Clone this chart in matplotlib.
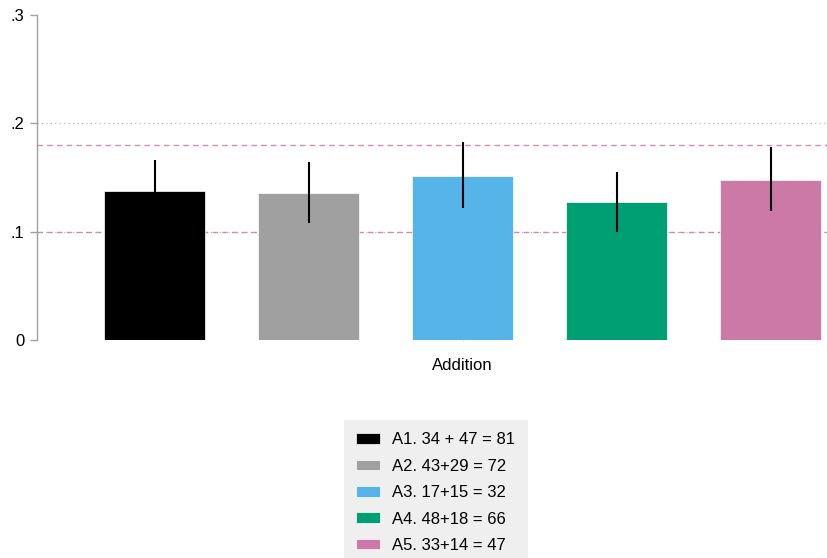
import matplotlib.pyplot as plt
from matplotlib.patches import Patch

plt.rcParams['font.family'] = ['Liberation Sans', 'DejaVu Sans']

labels = ['A1. 34 + 47 = 81', 'A2. 43+29 = 72', 'A3. 17+15 = 32',
          'A4. 48+18 = 66', 'A5. 33+14 = 47']
means = [0.1375, 0.1357, 0.1514, 0.127, 0.148]
ci_low = [0.109, 0.108, 0.1218, 0.100, 0.119]
ci_high = [0.166, 0.164, 0.1826, 0.1554, 0.178]
colors = ['#000000', '#a0a0a0', '#56b4e9', '#009e73', '#cc79a7']
ref_lines = [0.1, 0.18]
yticks = [0, 0.1, 0.2, 0.3]
ytick_labels = ['0', '.1', '.2', '.3']

fig = plt.figure(figsize=(8.28, 5.58), dpi=100)
ax = fig.add_axes([37 / 828, 1 - 340 / 558, 1 - 37 / 828, 325 / 558])

x = list(range(len(means)))
ax.bar(x, means, width=0.656, color=colors, edgecolor='white', linewidth=0.5, zorder=2)
for i in x:
    ax.plot([i, i], [ci_low[i], ci_high[i]], color='black', lw=1.5, zorder=3,
            solid_capstyle='butt')

for yv in [0, 0.1, 0.2]:
    ax.axhline(yv, color='#b0b0b0', lw=0.8, ls=(0, (1, 3)), zorder=0)
for yv in ref_lines:
    ax.axhline(yv, color='#cc79a7', lw=1.0, ls=(0, (4, 3)), alpha=0.85, zorder=1)

ax.set_xlim(-0.766, 4.373)
ax.set_ylim(0, 0.3)
ax.set_yticks(yticks)
ax.set_yticklabels(ytick_labels, fontsize=12)
ax.set_xticks([2])
ax.set_xticklabels(['Addition'], fontsize=12)
ax.tick_params(axis='x', length=1, color='#cccccc', pad=12)
ax.tick_params(axis='y', length=5, color='#a0a0a0', width=1, pad=4)
for s in ['top', 'right', 'bottom']:
    ax.spines[s].set_visible(False)
ax.spines['left'].set_color('#a0a0a0')
ax.spines['left'].set_linewidth(1)

handles = [Patch(facecolor=c, edgecolor='white', linewidth=0.5) for c in colors]
leg = fig.legend(handles, labels, loc='upper left',
                 bbox_to_anchor=(344 / 828, 1 - 420 / 558), fontsize=12,
                 frameon=True, fancybox=False, facecolor='#efefef', edgecolor='none',
                 handlelength=1.44, handleheight=0.6, handletextpad=0.72,
                 labelspacing=0.68, borderpad=0.75, borderaxespad=0)
leg.get_frame().set_alpha(1)

fig.savefig('out.png', dpi=100)
